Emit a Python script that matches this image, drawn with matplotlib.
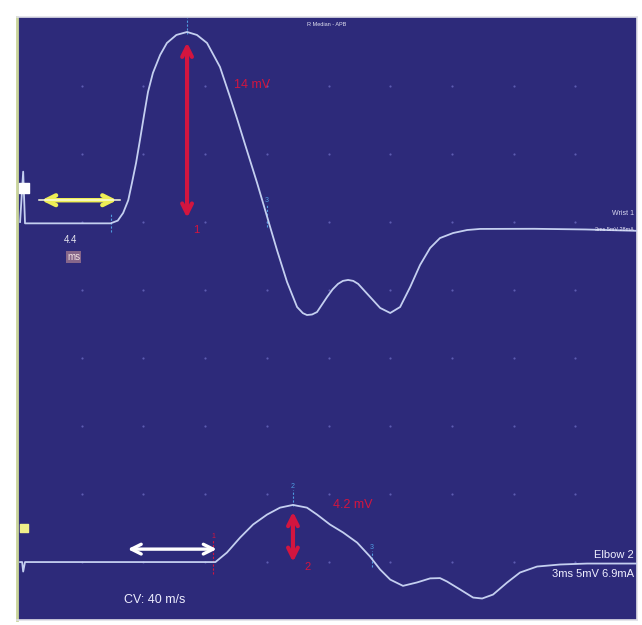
import matplotlib
matplotlib.use("Agg")
import matplotlib.pyplot as plt

plt.rcParams['font.family'] = ['Liberation Sans', 'DejaVu Sans']

# sweep settings: 3 ms/div, 5 mV/div, 10 x divisions
ms_per_div = 3
mv_per_div = 5
lower_offset = -25  # baseline of the elbow trace, mV

# Wrist 1 trace (ms, mV)
wrist_t = [0.0, 0.15, 0.24, 1.0, 2.5, 4.4, 4.75, 5.01, 5.26, 5.44, 5.64, 5.83, 6.03,
           6.22, 6.46, 6.81, 7.14, 7.6, 8.12, 8.6, 9.09, 9.72, 10.21, 10.55, 10.94,
           11.52, 12.01, 12.5, 12.98, 13.47, 13.75, 13.95, 14.2, 14.44, 14.93, 15.2,
           15.46, 15.7, 15.95, 16.2, 16.44, 17.02, 17.51, 18.0, 18.48, 18.97, 19.45,
           19.94, 20.42, 21.06, 21.74, 22.37, 25.0, 27.5, 30.0]
wrist_v = [0.0, 3.7, -0.1, -0.1, -0.1, -0.1, 0.1, 0.66, 1.6, 2.87, 4.34, 6.03, 7.87,
           9.56, 10.96, 12.28, 13.16, 13.75, 13.97, 13.75, 13.16, 11.4, 9.19, 7.6, 5.7,
           2.9, 0.4, -2.1, -4.4, -6.25, -6.7, -6.84, -6.8, -6.62, -5.51, -4.95,
           -4.55, -4.33, -4.26, -4.33, -4.55, -5.51, -6.32, -6.69, -6.25, -4.78, -3.16,
           -1.91, -1.18, -0.81, -0.59, -0.51, -0.5, -0.55, -0.65]

# Elbow 2 trace (ms, mV relative to its own baseline)
elbow_t = [0.0, 0.1, 0.15, 0.24, 3.0, 6.0, 9.5, 10.06, 10.7, 11.33, 12.01, 12.64,
           13.27, 13.95, 14.44, 15.07, 15.71, 16.39, 17.02, 17.51, 18.0, 18.62, 19.3,
           19.94, 20.42, 20.76, 21.4, 22.03, 22.47, 23.0, 23.68, 24.31, 25.14, 26.26,
           27.57, 30.0]
elbow_v = [0.0, 0.0, -0.7, 0.0, 0.0, 0.0, 0.0, 0.7, 1.8, 2.76, 3.49, 4.0,
           4.2, 4.0, 3.49, 2.76, 2.17, 1.43, 0.4, -0.55, -1.29, -1.75, -1.5,
           -1.2, -1.18, -1.43, -2.02, -2.61, -2.68, -2.39, -1.51, -0.77, -0.33, -0.18,
           -0.11, -0.11]

wrist_onset, wrist_peak_t, wrist_amp = 4.4, 8.12, 14
elbow_onset, elbow_peak_t, elbow_amp = 9.5, 13.27, 4.2
wrist_neg_t, elbow_neg_t = 12.0, 17.1

lat_arrow = [0.9, 4.85]
cv_arrow = [5.1, 9.7]

bg = '#2d2a7a'
trace_col = '#c4cff0'
red = '#d3153f'
cursor_col = '#4f9be0'

fig = plt.figure(figsize=(6.42, 6.25), dpi=100)
ax = fig.add_axes([17 / 642, 5 / 625, 620 / 642, 603 / 625])
ax.set_facecolor(bg)
ax.set_xlim(-0.15, 30)
ax.set_ylim(-29.26, 15.07)
ax.set_xticks([])
ax.set_yticks([])
for side in ['top', 'right', 'bottom']:
    ax.spines[side].set_color('#e0e0e8')
    ax.spines[side].set_linewidth(1.2)
ax.spines['left'].set_color('#c9d49a')
ax.spines['left'].set_linewidth(2)

# dotted division grid
gx = [ms_per_div * i for i in range(1, 10)]
gy = [mv_per_div * j for j in range(2, -6, -1)]
for yy in gy:
    ax.scatter(gx, [yy] * len(gx), s=2.5, color='#5d5cb0', zorder=1, linewidths=0)

ax.plot(wrist_t, wrist_v, color=trace_col, lw=1.3, zorder=3, solid_joinstyle='round')
ax.plot(elbow_t, [v + lower_offset for v in elbow_v], color=trace_col, lw=1.3, zorder=3,
        solid_joinstyle='round')

# trace markers (squares at stimulus)
ax.scatter([0.2], [2.5], marker='s', s=42, color='white', zorder=4)
ax.scatter([0.2], [lower_offset + 2.5], marker='s', s=36, color='#f0ef8a', zorder=4)


def cursor(t, y0, y1, label, col=cursor_col):
    ax.plot([t, t], [y0, y1], color=col, lw=0.8, ls=(0, (2, 1.5)), zorder=2)
    if label:
        ax.text(t, y1, label, color=col, fontsize=5, ha='center', va='bottom', zorder=5)


cursor(wrist_onset, -0.7, 0.6, '')
cursor(wrist_peak_t, wrist_amp - 0.2, 15.0, '')
cursor(wrist_neg_t, -0.4, 1.3, '3')
cursor(elbow_onset - 0.1, lower_offset - 0.9, lower_offset + 1.6, '1', col=red)
cursor(elbow_peak_t, lower_offset + elbow_amp - 0.1, lower_offset + 5.3, '2')
cursor(elbow_neg_t, lower_offset - 0.4, lower_offset + 0.8, '3')

arrow_style = '<->,head_length=0.7,head_width=0.35'

# amplitude arrows
ax.annotate('', xy=(wrist_peak_t, wrist_amp - 0.6), xytext=(wrist_peak_t, 0.1),
            arrowprops=dict(arrowstyle=arrow_style, color=red, lw=3), zorder=6)
ax.text(wrist_peak_t + 0.45, -0.6, '1', color=red, fontsize=8, ha='center', va='center')
ax.text(11.3, 10.1, '14 mV', color=red, fontsize=9, ha='center', va='center')

ax.annotate('', xy=(elbow_peak_t, lower_offset + elbow_amp - 0.3),
            xytext=(elbow_peak_t, lower_offset - 0.2),
            arrowprops=dict(arrowstyle=arrow_style, color=red, lw=3), zorder=6)
ax.text(elbow_peak_t + 0.7, lower_offset - 0.35, '2', color=red, fontsize=8,
        ha='center', va='center')
ax.text(16.2, lower_offset + 4.2, '4.2 mV', color=red, fontsize=9, ha='center', va='center')

# latency arrows
ax.annotate('', xy=(lat_arrow[1], 1.6), xytext=(lat_arrow[0], 1.6),
            arrowprops=dict(arrowstyle=arrow_style, color='#eeee55', lw=3.2), zorder=6)
ax.plot(lat_arrow, [1.6, 1.6], color='#fbfbd8', lw=1.1, zorder=7)
ax.text(2.45, -1.3, '4.4', color='#e8e8f0', fontsize=7, ha='center', va='center')
ax.text(2.6, -2.55, 'ms', color='#f0e0e0', fontsize=7, ha='center', va='center',
        bbox=dict(boxstyle='square,pad=0.1', fc='#86668a', ec='none'))

ax.annotate('', xy=(cv_arrow[1], lower_offset + 0.95), xytext=(cv_arrow[0], lower_offset + 0.95),
            arrowprops=dict(arrowstyle=arrow_style, color='white', lw=2.4), zorder=6)
ax.text(5.05, lower_offset - 2.8, 'CV: 40 m/s', color='#eeeeff', fontsize=9, ha='left',
        va='center')

# channel labels
ax.text(29.85, 0.65, 'Wrist 1', color='#d8d8f0', fontsize=5, ha='right', va='center')
ax.text(29.85, -0.55, '3ms 5mV 28mA', color='#e8e8f8', fontsize=4, ha='right', va='center')
ax.text(29.85, lower_offset + 0.55, 'Elbow 2', color='#f0f0ff', fontsize=8, ha='right',
        va='center')
ax.text(29.85, lower_offset - 0.9, '3ms 5mV 6.9mA', color='#f0f0ff', fontsize=8,
        ha='right', va='center')
ax.text(14.9, 14.7, 'R Median - APB', color='#e0e0f0', fontsize=4, ha='center', va='top')

fig.savefig('out.png', dpi=100)
